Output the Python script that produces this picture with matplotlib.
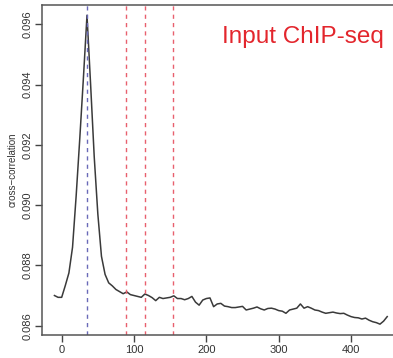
import matplotlib
matplotlib.use("Agg")
import matplotlib.pyplot as plt

# strand shift (bp) and cross-correlation values
shift = list(range(-10, 455, 5))
cc = [
    0.08700, 0.08694, 0.08694, 0.08733, 0.08775, 0.08860, 0.09030, 0.09220,
    0.09420, 0.09630, 0.09400, 0.09160, 0.08970, 0.08830, 0.08770, 0.08742,
    0.08732, 0.08720, 0.08713, 0.08706, 0.08712, 0.08703, 0.08700, 0.08697,
    0.08694, 0.08705, 0.08700, 0.08693, 0.08683, 0.08694, 0.08690, 0.08692,
    0.08694, 0.08699, 0.08690, 0.08690, 0.08686, 0.08690, 0.08697, 0.08678,
    0.08668, 0.08685, 0.08690, 0.08692, 0.08663, 0.08672, 0.08674, 0.08665,
    0.08663, 0.08660, 0.08660, 0.08662, 0.08664, 0.08652, 0.08655, 0.08658,
    0.08662, 0.08656, 0.08652, 0.08657, 0.08658, 0.08655, 0.08650, 0.08648,
    0.08641, 0.08652, 0.08655, 0.08658, 0.08672, 0.08658, 0.08663, 0.08658,
    0.08652, 0.08650, 0.08645, 0.08641, 0.08643, 0.08645, 0.08642, 0.08640,
    0.08641, 0.08635, 0.08630, 0.08627, 0.08626, 0.08622, 0.08625, 0.08618,
    0.08613, 0.08610, 0.08605, 0.08615, 0.08630,
]

# fragment-length estimate (blue) and candidate shifts (red)
peak_shift = [35]
other_shifts = [89, 115, 154]

x_ticks = [0, 100, 200, 300, 400]
y_ticks = [0.086, 0.088, 0.090, 0.092, 0.094, 0.096]
y_tick_labels = ["0.086", "0.088", "0.090", "0.092", "0.094", "0.096"]

plt.rcParams["font.family"] = ["Liberation Sans", "DejaVu Sans"]

fig = plt.figure(figsize=(3.93, 3.58), dpi=100)
ax = fig.add_axes([42 / 393, 1 - 335 / 358, 1 - 42 / 393, 330 / 358])

ax.plot(shift, cc, color="#3a3a3a", lw=1.1)
for s in peak_shift:
    ax.axvline(s, color="#6a6ab8", lw=1.0, ls=(0, (3, 3)))
for s in other_shifts:
    ax.axvline(s, color="#e8606e", lw=1.0, ls=(0, (3, 3)))

ax.set_xlim(-27.2, 458)
ax.set_ylim(0.08569, 0.09664)
ax.set_xticks(x_ticks)
ax.set_xticklabels([str(t) for t in x_ticks])
ax.set_yticks(y_ticks)
ax.set_yticklabels(y_tick_labels, rotation=90, va="center")

ax.tick_params(axis="both", direction="out", length=5, width=1.0,
               colors="#444444", labelsize=8, labelcolor="#333333")
ax.tick_params(axis="y", pad=2)
ax.tick_params(axis="x", pad=2)
for side in ["left", "bottom", "top"]:
    ax.spines[side].set_color("#555555")
    ax.spines[side].set_linewidth(1.1)
ax.spines["right"].set_visible(False)

ax.set_ylabel("cross\u2212correlation", fontsize=7, color="#333333", labelpad=3)

ax.text(0.975, 0.885, "Input ChIP-seq", transform=ax.transAxes,
        ha="right", va="baseline", color="#e3262d", fontsize=17.5)

fig.savefig("out.png", dpi=100)
